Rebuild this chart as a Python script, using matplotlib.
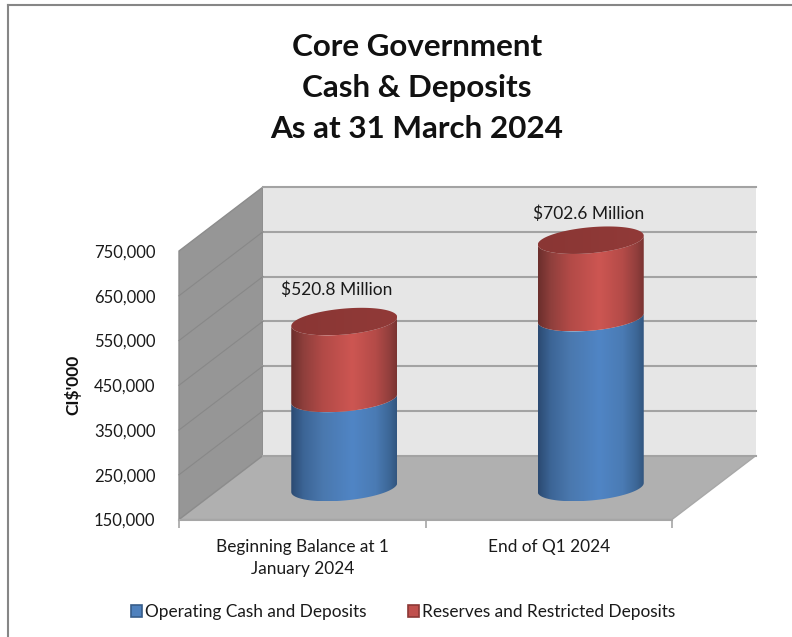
import numpy as np
import matplotlib
matplotlib.use('Agg')
import matplotlib.pyplot as plt
from matplotlib.colors import LinearSegmentedColormap
from matplotlib.lines import Line2D
from matplotlib.patches import Patch, Polygon

plt.rcParams['font.family'] = ['Lato', 'DejaVu Sans']

# ==========================================================================
# data
# ==========================================================================
categories = ['Beginning Balance at 1\nJanuary 2024', 'End of Q1 2024']
operating = [349000, 529500]
reserves = [171800, 173100]
totals = ['$520.8 Million', '$702.6 Million']
yticks = [150000, 250000, 350000, 450000, 550000, 650000, 750000]
series_names = ['Operating Cash and Deposits', 'Reserves and Restricted Deposits']
title = 'Core Government\nCash & Deposits\nAs at 31 March 2024'

# ==========================================================================
# figure, axes is the front plane of the 3d box
# ==========================================================================
W, H = 792, 637
fig = plt.figure(figsize=(W / 100, H / 100), dpi=100)
ax = fig.add_axes([179 / W, (H - 519.5) / H, 493 / W, 268.5 / H])
ax.set_xlim(0, 2)
ax.set_ylim(150000, 750000)
ax.patch.set_visible(False)

px_x = 2 / 493          # x units per pixel
px_y = 600000 / 268.5   # y units per pixel
dx = 84 * px_x          # depth of the box
dy = 64 * px_y
y0, y1 = yticks[0], yticks[-1]

# floor, side wall and back wall
ax.add_patch(Polygon([(0, y0), (2, y0), (2 + dx, y0 + dy), (dx, y0 + dy)],
                     fc='#b0b0b0', ec='#a8a8a8', lw=1, clip_on=False, zorder=1))
ax.add_patch(Polygon([(0, y0), (dx, y0 + dy), (dx, y1 + dy), (0, y1)],
                     fc='#969696', ec='#8c8c8c', lw=1, clip_on=False, zorder=1))
ax.add_patch(Polygon([(dx, y0 + dy), (2 + dx, y0 + dy), (2 + dx, y1 + dy), (dx, y1 + dy)],
                     fc='#e6e6e6', ec='none', clip_on=False, zorder=1))

for v in yticks:
    ax.plot([dx, 2 + dx], [v + dy, v + dy], color='#a3a3a3', lw=1.5, clip_on=False, zorder=2)
for v in yticks[1:-1]:
    ax.plot([0, dx], [v, v + dy], color='#888888', lw=0.8, clip_on=False, zorder=2)

# ==========================================================================
# cylinders
# ==========================================================================
blue_cmap = LinearSegmentedColormap.from_list('b', [(0, '#2b4a72'), (0.12, '#3c6596'), (0.3, '#4a78ae'),
                                                    (0.58, '#5085c5'), (0.8, '#4a7bb4'), (0.93, '#3d6797'), (1, '#32567f')])
red_cmap = LinearSegmentedColormap.from_list('r', [(0, '#6b2e2c'), (0.12, '#8f3f3c'), (0.3, '#b24a47'),
                                                   (0.58, '#cd5652'), (0.8, '#b44b48'), (0.93, '#923f3d'), (1, '#7a3432')])
top_cmap = LinearSegmentedColormap.from_list('t', ['#8a3634', '#913a38'])

a = 53 * px_x
b = 13 * px_y
tilt = 4.5 * px_y
t_low = np.linspace(np.pi, 2 * np.pi, 60)
label_shift = [-8, -2]
label_rise = [32, 26]


def arc(cx, v, t):
    return np.column_stack([cx + a * np.cos(t), v + tilt * np.cos(t) + b * np.sin(t)])


def shaded(cx, outline, cmap, zorder):
    grad = np.linspace(0, 1, 256).reshape(1, -1)
    lo, hi = outline[:, 1].min(), outline[:, 1].max()
    im = ax.imshow(grad, cmap=cmap, extent=(cx - a, cx + a, lo, hi), aspect='auto', zorder=zorder)
    clip = Polygon(outline, closed=True, transform=ax.transData, fc='none', ec='none')
    im.set_clip_path(clip)
    im.set_clip_box(fig.bbox)


for i in range(2):
    cx = i + 0.5 + dx / 2
    base = y0 + dy / 2
    mid = operating[i] + dy / 2
    top = operating[i] + reserves[i] + dy / 2
    shaded(cx, np.vstack([arc(cx, base, t_low), arc(cx, mid, t_low)[::-1]]), blue_cmap, 3)
    shaded(cx, np.vstack([arc(cx, mid, t_low), arc(cx, top, t_low)[::-1]]), red_cmap, 4)
    shaded(cx, arc(cx, top, np.linspace(0, 2 * np.pi, 120)), top_cmap, 5)
    ax.text(cx + label_shift[i] * px_x, top + label_rise[i] * px_y, totals[i], ha='center', va='center',
            fontsize=12.5, color='#1a1a1a', zorder=6, clip_on=False)

ax.set_xlim(0, 2)
ax.set_ylim(150000, 750000)

# ==========================================================================
# axes, labels
# ==========================================================================
for s in ['top', 'right', 'left']:
    ax.spines[s].set_visible(False)
ax.spines['bottom'].set_color('#a6a6a6')
ax.spines['bottom'].set_linewidth(1.5)

ax.set_yticks(yticks)
ax.set_yticklabels([f'{v:,}' for v in yticks], fontsize=12, color='#1a1a1a')
ax.tick_params(axis='y', length=0, pad=17)
ax.set_xticks([0, 1, 2])
ax.set_xticklabels([])
ax.set_xticks([0.5, 1.5], minor=True)
ax.set_xticklabels(categories, minor=True, fontsize=12.4, color='#1a1a1a', linespacing=1.45)
ax.tick_params(axis='x', which='major', length=6, width=1.2, color='#a6a6a6')
ax.tick_params(axis='x', which='minor', length=0, pad=14)

fig.text(73 / W, 1 - 385 / H, "CI$'000", rotation=90, ha='center', va='center',
         fontsize=12.5, fontweight='bold', color='#111111')
fig.text(417 / W, 1 - 88 / H, title, ha='center', va='center', fontsize=22.6,
         fontweight='bold', color='#111111', linespacing=1.58)

handles = [Patch(fc='#4f81bd', ec='#385d8a', lw=1.2), Patch(fc='#c0504d', ec='#8c3836', lw=1.2)]
fig.legend(handles, series_names, loc='center', bbox_to_anchor=(403.5 / W, 1 - 612 / H), ncol=2,
           frameon=False, fontsize=12.4, handlelength=0.62, handleheight=0.62, handletextpad=0.2,
           columnspacing=2.4, labelcolor='#1a1a1a')

# outer chart frame
fig.add_artist(Line2D([8 / W, 8 / W], [0, 1 - 5 / H], color='#868686', lw=1.5))
fig.add_artist(Line2D([8 / W, 1], [1 - 5 / H, 1 - 5 / H], color='#868686', lw=1.5))

fig.savefig('out.png', dpi=100)
